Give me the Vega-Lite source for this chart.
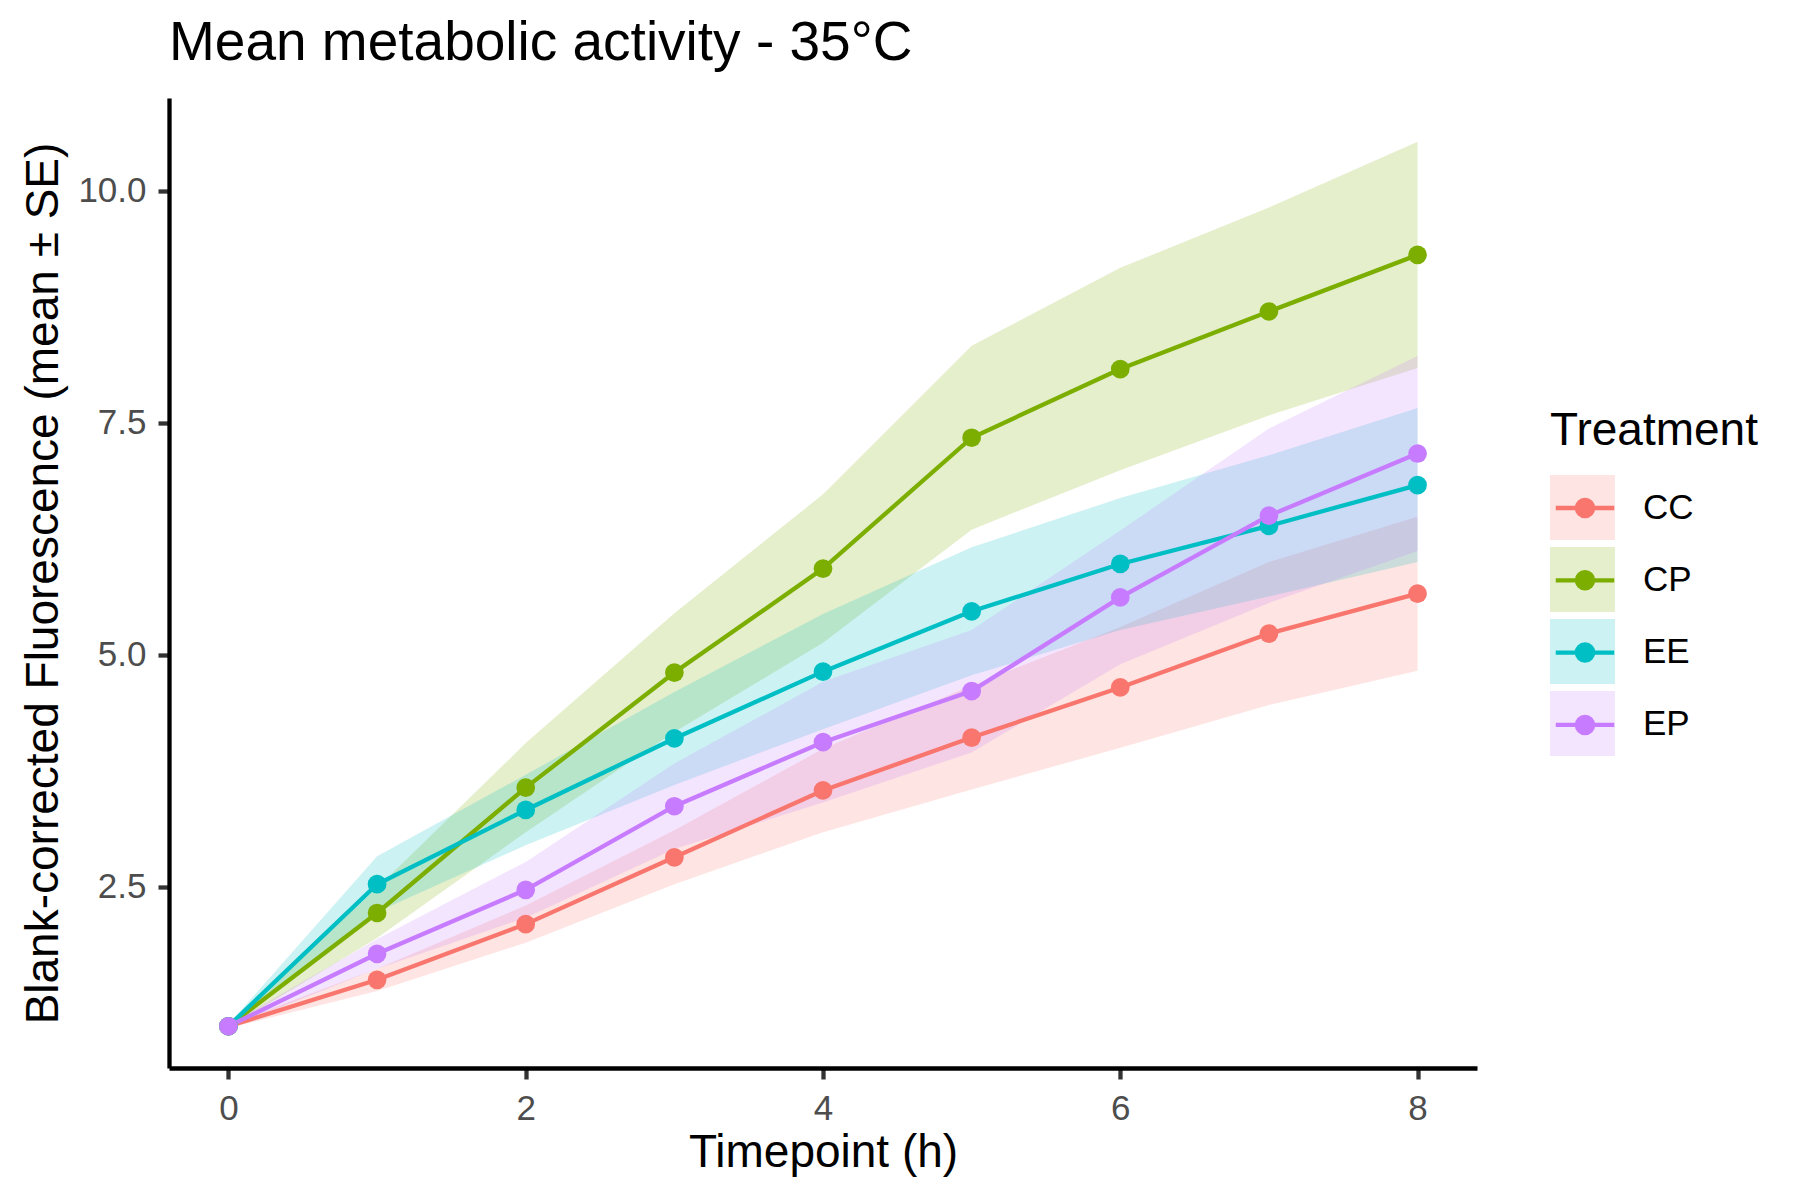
{
  "$schema": "https://vega.github.io/schema/vega-lite/v6.json",
  "width": 1308,
  "height": 970,
  "autosize": {"type": "none"},
  "padding": {"left": 169, "top": 98, "right": 323, "bottom": 132},
  "background": "white",
  "config": {
    "font": "Liberation Sans",
    "view": {"stroke": null},
    "axis": {"grid": false}
  },
  "title": {
    "text": "Mean metabolic activity - 35°C",
    "anchor": "start",
    "frame": "group",
    "fontSize": 55,
    "fontWeight": "normal",
    "color": "black",
    "baseline": "alphabetic",
    "offset": 35,
    "dy": 52
  },
  "datasets": {
    "ribbon": [
      {"Treatment": "CC", "Time": 0, "lower": 0.98, "upper": 1.02},
      {"Treatment": "CC", "Time": 1, "lower": 1.38, "upper": 1.62},
      {"Treatment": "CC", "Time": 2, "lower": 1.90, "upper": 2.30},
      {"Treatment": "CC", "Time": 3, "lower": 2.53, "upper": 3.11},
      {"Treatment": "CC", "Time": 4, "lower": 3.09, "upper": 3.99},
      {"Treatment": "CC", "Time": 5, "lower": 3.55, "upper": 4.67},
      {"Treatment": "CC", "Time": 6, "lower": 4.00, "upper": 5.30},
      {"Treatment": "CC", "Time": 7, "lower": 4.46, "upper": 6.00},
      {"Treatment": "CC", "Time": 8, "lower": 4.83, "upper": 6.49},
      {"Treatment": "CP", "Time": 0, "lower": 0.98, "upper": 1.02},
      {"Treatment": "CP", "Time": 1, "lower": 1.95, "upper": 2.49},
      {"Treatment": "CP", "Time": 2, "lower": 3.09, "upper": 4.05},
      {"Treatment": "CP", "Time": 3, "lower": 4.17, "upper": 5.45},
      {"Treatment": "CP", "Time": 4, "lower": 5.13, "upper": 6.73},
      {"Treatment": "CP", "Time": 5, "lower": 6.35, "upper": 8.33},
      {"Treatment": "CP", "Time": 6, "lower": 6.99, "upper": 9.17},
      {"Treatment": "CP", "Time": 7, "lower": 7.58, "upper": 9.82},
      {"Treatment": "CP", "Time": 8, "lower": 8.09, "upper": 10.53},
      {"Treatment": "EE", "Time": 0, "lower": 0.98, "upper": 1.02},
      {"Treatment": "EE", "Time": 1, "lower": 2.23, "upper": 2.83},
      {"Treatment": "EE", "Time": 2, "lower": 2.95, "upper": 3.71},
      {"Treatment": "EE", "Time": 3, "lower": 3.60, "upper": 4.60},
      {"Treatment": "EE", "Time": 4, "lower": 4.20, "upper": 5.44},
      {"Treatment": "EE", "Time": 5, "lower": 4.78, "upper": 6.16},
      {"Treatment": "EE", "Time": 6, "lower": 5.27, "upper": 6.69},
      {"Treatment": "EE", "Time": 7, "lower": 5.63, "upper": 7.15},
      {"Treatment": "EE", "Time": 8, "lower": 6.00, "upper": 7.66},
      {"Treatment": "EP", "Time": 0, "lower": 0.98, "upper": 1.02},
      {"Treatment": "EP", "Time": 1, "lower": 1.62, "upper": 1.94},
      {"Treatment": "EP", "Time": 2, "lower": 2.17, "upper": 2.77},
      {"Treatment": "EP", "Time": 3, "lower": 2.91, "upper": 3.83},
      {"Treatment": "EP", "Time": 4, "lower": 3.41, "upper": 4.71},
      {"Treatment": "EP", "Time": 5, "lower": 3.95, "upper": 5.27},
      {"Treatment": "EP", "Time": 6, "lower": 4.90, "upper": 6.34},
      {"Treatment": "EP", "Time": 7, "lower": 5.56, "upper": 7.44},
      {"Treatment": "EP", "Time": 8, "lower": 6.12, "upper": 8.22}
    ],
    "means": [
      {"Treatment": "CC", "Time": 0, "mean": 1.00},
      {"Treatment": "CC", "Time": 1, "mean": 1.50},
      {"Treatment": "CC", "Time": 2, "mean": 2.10},
      {"Treatment": "CC", "Time": 3, "mean": 2.82},
      {"Treatment": "CC", "Time": 4, "mean": 3.54},
      {"Treatment": "CC", "Time": 5, "mean": 4.11},
      {"Treatment": "CC", "Time": 6, "mean": 4.65},
      {"Treatment": "CC", "Time": 7, "mean": 5.23},
      {"Treatment": "CC", "Time": 8, "mean": 5.66},
      {"Treatment": "CP", "Time": 0, "mean": 1.00},
      {"Treatment": "CP", "Time": 1, "mean": 2.22},
      {"Treatment": "CP", "Time": 2, "mean": 3.57},
      {"Treatment": "CP", "Time": 3, "mean": 4.81},
      {"Treatment": "CP", "Time": 4, "mean": 5.93},
      {"Treatment": "CP", "Time": 5, "mean": 7.34},
      {"Treatment": "CP", "Time": 6, "mean": 8.08},
      {"Treatment": "CP", "Time": 7, "mean": 8.70},
      {"Treatment": "CP", "Time": 8, "mean": 9.31},
      {"Treatment": "EE", "Time": 0, "mean": 1.00},
      {"Treatment": "EE", "Time": 1, "mean": 2.53},
      {"Treatment": "EE", "Time": 2, "mean": 3.33},
      {"Treatment": "EE", "Time": 3, "mean": 4.10},
      {"Treatment": "EE", "Time": 4, "mean": 4.82},
      {"Treatment": "EE", "Time": 5, "mean": 5.47},
      {"Treatment": "EE", "Time": 6, "mean": 5.98},
      {"Treatment": "EE", "Time": 7, "mean": 6.39},
      {"Treatment": "EE", "Time": 8, "mean": 6.83},
      {"Treatment": "EP", "Time": 0, "mean": 1.00},
      {"Treatment": "EP", "Time": 1, "mean": 1.78},
      {"Treatment": "EP", "Time": 2, "mean": 2.47},
      {"Treatment": "EP", "Time": 3, "mean": 3.37},
      {"Treatment": "EP", "Time": 4, "mean": 4.06},
      {"Treatment": "EP", "Time": 5, "mean": 4.61},
      {"Treatment": "EP", "Time": 6, "mean": 5.62},
      {"Treatment": "EP", "Time": 7, "mean": 6.50},
      {"Treatment": "EP", "Time": 8, "mean": 7.17}
    ]
  },
  "encoding": {
    "x": {
      "field": "Time",
      "type": "quantitative",
      "scale": {"domain": [-0.4, 8.4], "nice": false, "zero": false},
      "axis": {
        "values": [0, 2, 4, 6, 8],
        "title": "Timepoint (h)",
        "titleFontSize": 46,
        "titleFontWeight": "normal",
        "titleColor": "black",
        "titleBaseline": "alphabetic",
        "titleX": 654,
        "titleY": 98,
        "labelFontSize": 35,
        "labelColor": "#4D4D4D",
        "labelPadding": 12,
        "tickSize": 11,
        "tickWidth": 4.3,
        "tickColor": "#333333",
        "domainColor": "black",
        "domainWidth": 4.3
      }
    }
  },
  "layer": [
    {
      "data": {"name": "ribbon"},
      "mark": {"type": "area", "opacity": 0.2},
      "encoding": {
        "y": {
          "field": "lower",
          "type": "quantitative",
          "scale": {"domain": [0.55, 11.0], "nice": false, "zero": false},
          "axis": {
            "values": [2.5, 5, 7.5, 10],
            "format": ".1f",
            "title": "Blank-corrected Fluorescence (mean ± SE)",
            "titleFontSize": 46,
            "titleFontWeight": "normal",
            "titleColor": "black",
            "titleAngle": 270,
            "titleBaseline": "alphabetic",
            "titleAlign": "center",
            "titleX": -112,
            "titleY": 485,
            "labelFontSize": 35,
            "labelColor": "#4D4D4D",
            "labelPadding": 12,
            "tickSize": 11,
            "tickWidth": 4.3,
            "tickColor": "#333333",
            "domainColor": "black",
            "domainWidth": 4.3
          }
        },
        "y2": {"field": "upper"},
        "fill": {
          "field": "Treatment",
          "type": "nominal",
          "scale": {"range": ["#F8766D", "#7CAE00", "#00BFC4", "#C77CFF"]},
          "legend": {
            "orient": "none",
            "legendX": 1381,
            "legendY": 311,
            "padding": 0,
            "title": "Treatment",
            "titleFontSize": 46,
            "titleFontWeight": "normal",
            "titleColor": "black",
            "titleLimit": 500,
            "titlePadding": 20,
            "labelFontSize": 35,
            "labelColor": "black",
            "labelOffset": 28,
            "symbolType": "square",
            "symbolSize": 4225,
            "symbolOpacity": 0.2,
            "symbolStrokeWidth": 0,
            "rowPadding": 7
          }
        }
      }
    },
    {
      "data": {"name": "means"},
      "mark": {"type": "line", "strokeWidth": 4.3},
      "encoding": {
        "y": {"field": "mean", "type": "quantitative"},
        "color": {
          "field": "Treatment",
          "type": "nominal",
          "scale": {"range": ["#F8766D", "#7CAE00", "#00BFC4", "#C77CFF"]},
          "legend": {
            "orient": "none",
            "legendX": 1381,
            "legendY": 375,
            "padding": 0,
            "title": null,
            "labelExpr": "''",
            "labelFontSize": 35,
            "labelOffset": 28,
            "symbolType": "M-0.9,0L0.9,0M0.25,0A0.25,0.25,0,1,1,-0.25,0A0.25,0.25,0,1,1,0.25,0Z",
            "symbolSize": 4225,
            "symbolStrokeWidth": 4.3,
            "symbolOpacity": 1,
            "rowPadding": 19.3,
            "encode": {
              "symbols": {
                "update": {
                  "fill": {"scale": "color", "field": "value"},
                  "stroke": {"scale": "color", "field": "value"}
                }
              }
            }
          }
        }
      }
    },
    {
      "data": {"name": "means"},
      "mark": {"type": "point", "filled": true, "opacity": 1, "size": 350},
      "encoding": {
        "y": {"field": "mean", "type": "quantitative"},
        "color": {
          "field": "Treatment",
          "type": "nominal",
          "scale": {"range": ["#F8766D", "#7CAE00", "#00BFC4", "#C77CFF"]}
        }
      }
    }
  ]
}
